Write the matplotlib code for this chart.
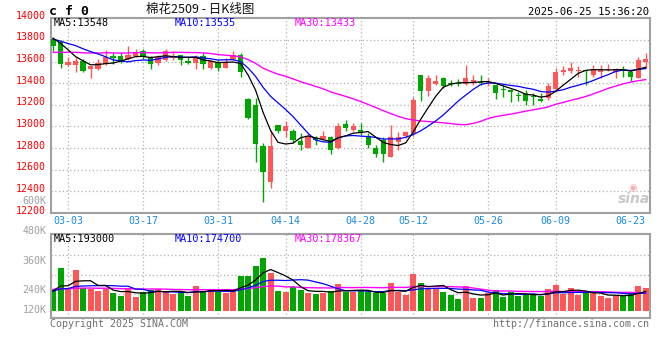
import numpy as np
import pandas as pd
import matplotlib
matplotlib.use("Agg")
import matplotlib.pyplot as plt

plt.rcParams['font.family'] = ['DejaVu Sans Mono', 'Noto Sans CJK SC']

# 日K数据 (02-27 ~ 06-25), 读自原图
open_ = [13810, 13780, 13565, 13570, 13605, 13530, 13530, 13580, 13650, 13655,
         13625, 13655, 13700, 13635, 13585, 13615, 13630, 13660, 13605, 13585,
         13655, 13540, 13600, 13545, 13620, 13660, 13255, 13200, 12815, 12490,
         13010, 12960, 12955, 12865, 12805, 12895, 12885, 12900, 12800, 13025,
         12970, 12970, 12915, 12805, 12875, 12720, 12860, 12915, 12940, 13475,
         13330, 13390, 13450, 13400, 13400, 13395, 13415, 13415, 13395, 13380,
         13340, 13340, 13290, 13305, 13280, 13255, 13260, 13345, 13500, 13515,
         13510, 13515, 13475, 13505, 13525, 13500, 13515, 13505, 13450, 13600]
high = [13825, 13795, 13645, 13645, 13625, 13560, 13620, 13705, 13675, 13680,
        13745, 13715, 13720, 13655, 13660, 13720, 13700, 13665, 13645, 13665,
        13675, 13615, 13610, 13630, 13700, 13675, 13265, 13265, 12845, 12970,
        13015, 13050, 12980, 12940, 12940, 12915, 12960, 12915, 13030, 13060,
        13030, 13030, 12940, 12830, 12900, 13015, 12945, 12955, 13275, 13480,
        13480, 13480, 13460, 13425, 13435, 13570, 13480, 13475, 13445, 13385,
        13380, 13350, 13315, 13340, 13305, 13305, 13400, 13545, 13555, 13600,
        13555, 13525, 13570, 13570, 13575, 13545, 13555, 13515, 13645, 13675]
low = [13700, 13545, 13555, 13500, 13505, 13450, 13525, 13570, 13575, 13590,
       13615, 13645, 13620, 13535, 13570, 13605, 13615, 13565, 13575, 13530,
       13530, 13535, 13510, 13540, 13615, 13460, 13070, 12675, 12305, 12435,
       12940, 12900, 12845, 12785, 12800, 12830, 12875, 12745, 12790, 12955,
       12960, 12920, 12800, 12715, 12670, 12715, 12785, 12890, 12915, 13235,
       13285, 13385, 13360, 13370, 13375, 13385, 13385, 13385, 13370, 13255,
       13275, 13230, 13235, 13200, 13195, 13225, 13245, 13340, 13475, 13490,
       13460, 13385, 13460, 13450, 13515, 13450, 13460, 13420, 13445, 13540]
close = [13740, 13575, 13600, 13605, 13515, 13555, 13585, 13645, 13630, 13605,
         13660, 13690, 13655, 13575, 13645, 13700, 13655, 13615, 13585, 13645,
         13575, 13605, 13540, 13600, 13660, 13505, 13075, 12835, 12575, 12820,
         12960, 13000, 12875, 12825, 12900, 12875, 12915, 12785, 13000, 12990,
         13000, 12945, 12830, 12745, 12745, 12900, 12900, 12950, 13245, 13330,
         13445, 13420, 13370, 13390, 13395, 13450, 13430, 13400, 13400, 13310,
         13335, 13315, 13285, 13240, 13275, 13240, 13370, 13500, 13525, 13545,
         13515, 13510, 13530, 13525, 13530, 13530, 13510, 13460, 13615, 13625]
volume_k = [210, 427, 217, 404, 228, 215, 197, 215, 178, 150,
            215, 141, 190, 207, 217, 190, 167, 184, 151, 246,
            197, 217, 184, 174, 217, 348, 348, 443, 525, 378,
            197, 184, 236, 207, 174, 167, 181, 197, 266, 184,
            184, 197, 184, 174, 174, 276, 190, 158, 364, 276,
            213, 217, 190, 158, 118, 246, 131, 131, 174, 207,
            141, 187, 151, 158, 164, 151, 217, 256, 164, 230,
            158, 174, 174, 145, 131, 151, 151, 190, 243, 230]

# 图外前29日 (估计值, 仅用于让均线起点与原图一致)
prior_close = [13560, 13590, 13620, 13650, 13610, 13580, 13600, 13640, 13670, 13630,
               13600, 13620, 13650, 13660, 13620, 13590, 13610, 13640, 13660, 13660,
               13780, 13820, 13790, 13815, 13810, 13805, 13900, 13920, 13710]
prior_vol_k = [230, 210, 245, 200, 215, 260, 190, 225, 235, 205,
               220, 240, 200, 215, 230, 250, 210, 220, 225, 215,
               185, 200, 180, 195, 190, 190, 205, 185, 203]

holidays = ['2025-04-04', '2025-05-01', '2025-05-02', '2025-05-05', '2025-06-02']
days = pd.bdate_range('2025-02-27', '2025-06-25')
days = days[~days.isin(pd.to_datetime(holidays))]
date_labels = list(days.strftime('%m-%d'))
tick_dates = ['03-03', '03-17', '03-31', '04-14', '04-28', '05-12', '05-26', '06-09', '06-23']
grid_dates = tick_dates[:-1]

price_ticks = [14000, 13800, 13600, 13400, 13200, 13000, 12800, 12600, 12400, 12200]
vol_labels = ['600K', '480K', '360K', '240K', '120K']

RED = '#ff5757'
GREEN = '#00a600'
GRID = '#b0b0b0'
BORDER = '#a0a0a0'
DATEC = '#1b8ae0'

n_prior = len(prior_close)
c_all = pd.Series(prior_close + close)
v_all = pd.Series(prior_vol_k + volume_k) * 1000
ma = {n: c_all.rolling(n).mean().iloc[n_prior:].to_numpy() for n in (5, 10, 30)}
vma = {n: v_all.rolling(n).mean().iloc[n_prior:].to_numpy() for n in (5, 10, 30)}

x = np.arange(len(close))
o = np.array(open_)
c = np.array(close)
up = c >= o
colors = np.where(up, RED, GREEN)

W, H = 660, 360
def box(l, t, r, b):
    return [l / W, 1 - b / H, (r - l) / W, (b - t) / H]

fig = plt.figure(figsize=(W / 100, H / 100), dpi=100)
ax = fig.add_axes(box(50.7, 18.3, 649.7, 213))
axv = fig.add_axes(box(50.7, 234.3, 649.7, 318.3))

grid_x = [date_labels.index(d) for d in grid_dates]
tick_x = [date_labels.index(d) for d in tick_dates]

for a in (ax, axv):
    a.set_xlim(-0.31, len(close) - 1 + 0.53)
    a.set_xticks([])
    a.set_yticks([])
    for s in a.spines.values():
        s.set_color(BORDER)
        s.set_linewidth(1.5)
    for gx in grid_x:
        a.axvline(gx, color=GRID, lw=0.9, ls=(0, (1, 2)), zorder=0)

# K线
ax.set_ylim(price_ticks[-1], price_ticks[0])
for p in price_ticks[1:-1]:
    ax.axhline(p, color=GRID, lw=0.9, ls=(0, (1, 2)), zorder=0)
ax.vlines(x, low, high, colors=colors, lw=1, zorder=2)
body = np.maximum(np.abs(c - o), 8)
ax.bar(x, body, bottom=np.minimum(o, c), width=0.7, color=colors, zorder=3)
ax.plot(x, ma[30], color='#ff00ff', lw=1, zorder=4)
ax.plot(x, ma[10], color='#0000ff', lw=0.9, zorder=4)
ax.plot(x, ma[5], color='black', lw=0.9, zorder=5)

for p in price_ticks:
    ax.annotate(str(p), xy=(0, p), xycoords=('axes fraction', 'data'),
                xytext=(-3.5, 1.8), textcoords='offset points',
                ha='right', va='center', color='#ff0000', fontsize=7.2)
for d, tx in zip(tick_dates, tick_x):
    ax.annotate(d, xy=(tx, 0), xycoords=('data', 'axes fraction'),
                xytext=(0, -6), textcoords='offset points',
                ha='center', va='center', color=DATEC, fontsize=7.2)

def ma_text(a, y, texts):
    for xp, s, col in zip((53.5, 175, 295), texts, ('black', '#0000ff', '#ff00ff')):
        a.text((xp - 50.7) / 599, y, s, transform=a.transAxes, ha='left', va='center',
               color=col, fontsize=7.3)

ma_text(ax, 1 - (23.5 - 18.3) / 194.7,
        ['MA5:%d' % round(ma[5][-1]), 'MA10:%d' % round(ma[10][-1]), 'MA30:%d' % round(ma[30][-1])])

# 成交量
axv.set_ylim(-72000, 755500)
for gv in (162500, 355000, 551500):
    axv.axhline(gv, color=GRID, lw=0.9, ls=(0, (1, 2)), zorder=0)
axv.bar(x, np.array(volume_k) * 1000, width=0.8, color=colors, zorder=2)
axv.plot(x, vma[30], color='#ff00ff', lw=1, zorder=3)
axv.plot(x, vma[10], color='#0000ff', lw=0.9, zorder=3)
axv.plot(x, vma[5], color='black', lw=0.9, zorder=4)
ma_text(axv, 1 - (238.5 - 234.3) / 84,
        ['MA5:%d' % round(vma[5][-1]), 'MA10:%d' % round(vma[10][-1]), 'MA30:%d' % round(vma[30][-1])])

for s, yp in zip(vol_labels, (201, 230.7, 260.7, 290, 310)):
    fig.text(46.5 / W, 1 - yp / H, s, ha='right', va='center', color='#a0a0a0', fontsize=7.2)

# 标题与页脚
fig.text(49 / W, 1 - 11.5 / H, 'c f 0', ha='left', va='center', fontsize=9.5,
         fontweight='bold', color='black')
fig.text(200 / W, 1 - 10 / H, '棉花2509 - 日K线图', ha='center', va='center', fontsize=9,
         family=['Noto Sans CJK SC', 'DejaVu Sans'], color='#111111')
fig.text(649 / W, 1 - 12 / H, '2025-06-25 15:36:20', ha='right', va='center',
         fontsize=7.6, color='black')
fig.text(50 / W, 1 - 324 / H, 'Copyright 2025 SINA.COM', ha='left', va='center',
         fontsize=7.2, color='#707070')
fig.text(649 / W, 1 - 324 / H, 'http://finance.sina.com.cn', ha='right', va='center',
         fontsize=7.2, color='#707070')

# 水印
fig.text(634 / W, 1 - 199 / H, 'sina', ha='center', va='center', fontsize=10,
         fontstyle='italic', fontweight='bold', color='#c8c8c8', family='DejaVu Sans')
fig.text(633 / W, 1 - 188 / H, '◉', ha='center', va='center', fontsize=7,
         color='#f2b0b0', family='DejaVu Sans')

fig.savefig('out.png', dpi=100)
